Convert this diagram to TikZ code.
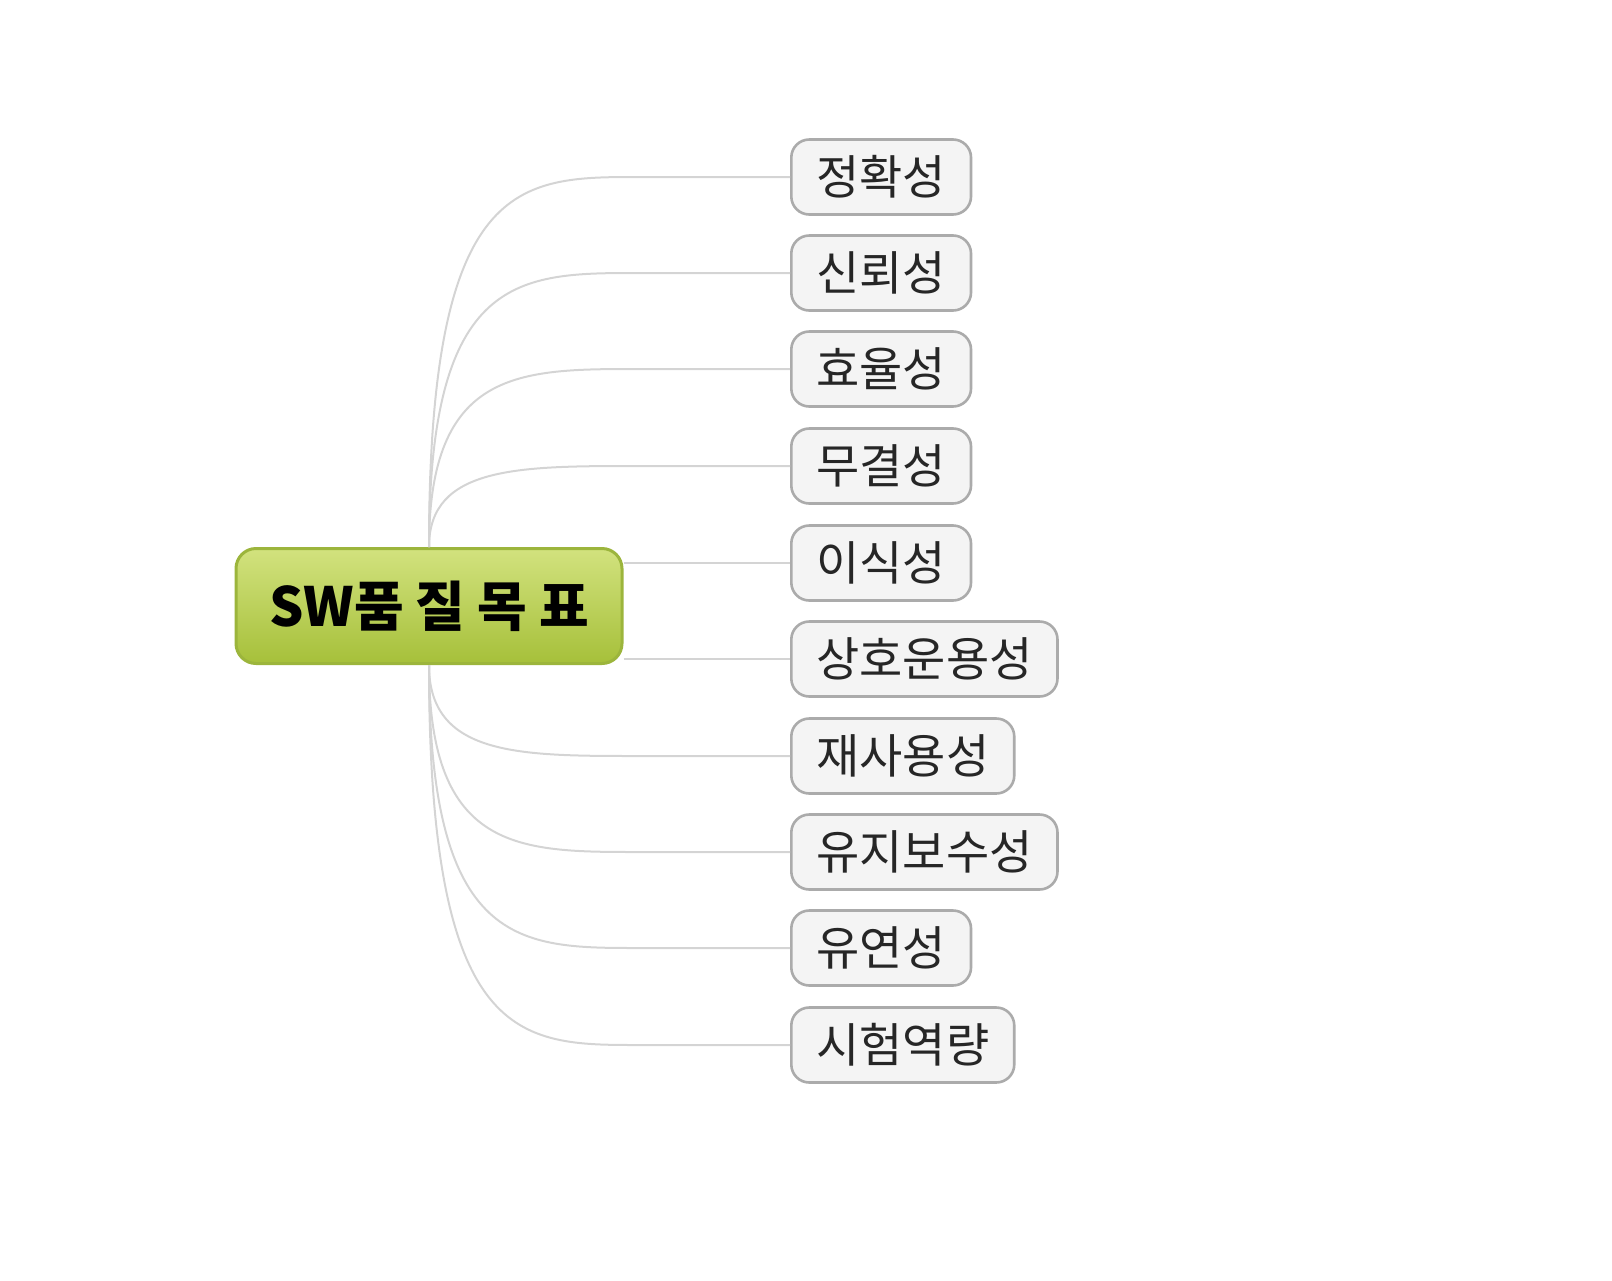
\documentclass[tikz,border=0pt]{standalone}
\usepackage{fontspec}
\setmainfont{Noto Sans CJK KR}
\usetikzlibrary{calc}
\definecolor{linegray}{HTML}{D4D4D4}
\definecolor{boxgray}{HTML}{ABABAB}
\definecolor{boxfill}{HTML}{F4F4F4}
\definecolor{goaltop}{HTML}{D2E27E}
\definecolor{goalbot}{HTML}{A6C03A}
\definecolor{goalline}{HTML}{9CB53C}
\tikzset{
  goal/.style={rectangle,minimum width=193pt,minimum height=57.5pt,rounded corners=10pt,
    draw=goalline,line width=1.5pt,top color=goaltop,bottom color=goalbot,
    font=\fontsize{27}{30}\selectfont\bfseries},
  item/.style={rectangle,anchor=west,minimum height=37.5pt,inner xsep=12.5pt,rounded corners=9pt,
    draw=boxgray,line width=1.3pt,fill=boxfill,text=black!85,
    font=\fontsize{23.5}{26}\selectfont},
  link/.style={draw=linegray,line width=1pt}
}
\begin{document}
\begin{tikzpicture}[x=0.5pt,y=-0.5pt]
\useasboundingbox (0,0) rectangle (1612,1280);
% quality characteristics
\draw (790,177)node[item](c1){정확성};
\draw (790,273)node[item](c2){신뢰성};
\draw (790,369)node[item](c3){효율성};
\draw (790,466)node[item](c4){무결성};
\draw (790,563)node[item](c5){이식성};
\draw (790,659)node[item](c6){상호운용성};
\draw (790,756)node[item](c7){재사용성};
\draw (790,852)node[item](c8){유지보수성};
\draw (790,948)node[item](c9){유연성};
\draw (790,1045)node[item](c10){시험역량};
% central goal
\draw (429,606)node[goal](sw){SW품\hspace{6pt}질\hspace{6pt}목\hspace{6pt}표};
% links
\foreach \n in {c1,c2,c3,c4}
  \draw[link] (sw.north) .. controls (sw.north |- \n.west) and ($(sw.north |- \n.west)+(90,0)$)
    .. ($(sw.north |- \n.west)+(210,0)$) -- (\n.west);
\foreach \n in {c7,c8,c9,c10}
  \draw[link] (sw.south) .. controls (sw.south |- \n.west) and ($(sw.south |- \n.west)+(90,0)$)
    .. ($(sw.south |- \n.west)+(210,0)$) -- (\n.west);
\foreach \n in {c5,c6}
  \draw[link] (sw.east |- \n.west) -- (\n.west);
\end{tikzpicture}
\end{document}
